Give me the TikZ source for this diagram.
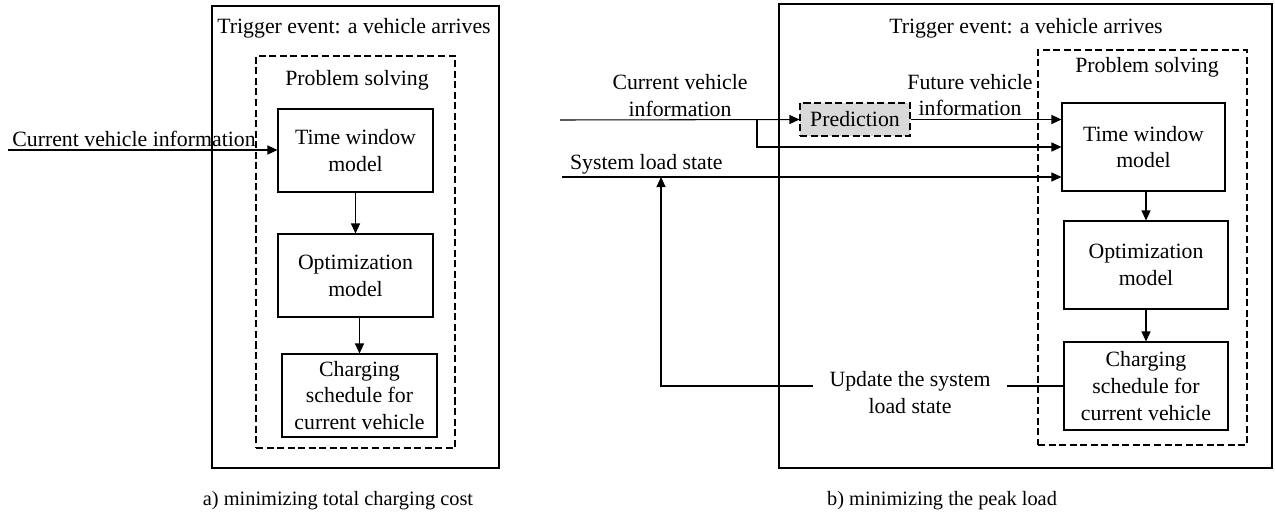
\documentclass[tikz,border=0pt]{standalone}
\usepackage{fontspec}
\setmainfont{Liberation Serif}
\usepackage{tikz}
\usetikzlibrary{arrows.meta,positioning}
\usepackage{xcolor}
\definecolor{predgray}{RGB}{217,217,217}
\newcommand{\figfont}{\fontsize{12.4}{15.3}\selectfont}
\newcommand{\capfont}{\fontsize{11.6}{14}\selectfont}
\tikzstyle{flow} = [line width=0.6pt,-{Triangle[length=2mm,width=1.8mm]}]
\tikzstyle{link} = [line width=0.6pt]

\begin{document}
\begin{tikzpicture}[
    frame/.style={rectangle, draw, line width=0.6pt, inner sep=0pt},
    solver/.style={rectangle, draw, dash pattern=on 4pt off 2pt, line width=0.6pt, inner sep=0pt},
    block/.style={rectangle, draw, line width=0.6pt, align=center, font=\figfont, inner sep=1pt},
    txt/.style={align=center, font=\figfont, inner sep=1pt}]

\useasboundingbox (0,0) rectangle (25.5,-10.3);

% a) minimizing total charging cost
\node[frame, minimum width=5.74cm, minimum height=9.24cm] (frameA) at (7.11,-4.74) {};
\node[txt, anchor=base] (trigA) at (7.08,-0.67) {Trigger event: a vehicle arrives};
\node[solver, minimum width=3.98cm, minimum height=7.84cm] (solveA) at (7.11,-5.04) {};
\node[txt, anchor=base] (probA) at (7.14,-1.7) {Problem solving};

\node[block, minimum width=3.1cm, minimum height=1.66cm] (twA) at (7.11,-3.01) {Time window\\model};
\node[block, minimum width=3.1cm, minimum height=1.66cm] (optA) at (7.11,-5.51) {Optimization\\model};
\node[block, minimum width=3.1cm, minimum height=1.66cm] (chA) at (7.19,-7.91) {Charging\\schedule for\\current vehicle};

\coordinate (cvinA) at (0.16,-3.0);
\node[txt, anchor=base] (cvlabA) at (2.68,-2.92) {Current vehicle information};
\draw[flow] (cvinA) -- (cvinA -| twA.west);
\draw[flow] (twA) -- (optA);
\draw[flow] (chA.north |- optA.south) -- (chA.north);

\node[font=\capfont, anchor=base] (capA) at (6.76,-10.1) {a) minimizing total charging cost};

% b) minimizing the peak load
\node[frame, minimum width=9.86cm, minimum height=9.28cm] (frameB) at (20.51,-4.72) {};
\node[txt, anchor=base] (trigB) at (20.52,-0.67) {Trigger event: a vehicle arrives};
\node[solver, minimum width=4.18cm, minimum height=7.9cm] (solveB) at (22.85,-4.95) {};
\node[txt, anchor=base] (probB) at (22.94,-1.44) {Problem solving};

\node[block, minimum width=3.26cm, minimum height=1.76cm] (twB) at (22.87,-2.94) {Time window\\model};
\node[block, minimum width=3.28cm, minimum height=1.76cm] (optB) at (22.92,-5.3) {Optimization\\model};
\node[block, minimum width=3.28cm, minimum height=1.76cm] (chB) at (22.92,-7.72) {Charging\\schedule for\\current vehicle};

\node[block, dash pattern=on 4pt off 2pt, fill=predgray, minimum width=2.2cm, minimum height=0.66cm] (pred) at (17.1,-2.39) {Prediction};

\node[txt] (cvlabB) at (13.6,-1.91) {Current vehicle\\information};
\node[txt] (fvlab) at (19.4,-1.9) {Future vehicle\\information};
\node[txt, anchor=base west] (syslab) at (11.36,-3.38) {System load state};
\node[txt, minimum width=3.88cm] (upd) at (18.2,-7.85) {Update the system\\load state};

\coordinate (cvinB) at (11.2,-2.4);
\coordinate (split) at (15.14,-2.4);
\coordinate (sysin) at (11.24,-3.54);
\coordinate (fbup) at (13.22,-3.54);

\draw[flow] (cvinB) -- (pred.west);
\draw[flow] (pred.east) -- (pred.east -| twB.west);
\draw[flow] (split) |- (twB.west);
\draw[flow] (sysin) -- (sysin -| twB.west);
\draw[flow] (optB.north |- twB.south) -- (optB.north);
\draw[flow] (optB) -- (chB);
\draw[link] (chB.west) -- (chB.west -| upd.east);
\draw[flow] (chB.west -| upd.west) -| (fbup);

\node[font=\capfont, anchor=base] (capB) at (18.84,-10.1) {b) minimizing the peak load};
\end{tikzpicture}
\end{document}
